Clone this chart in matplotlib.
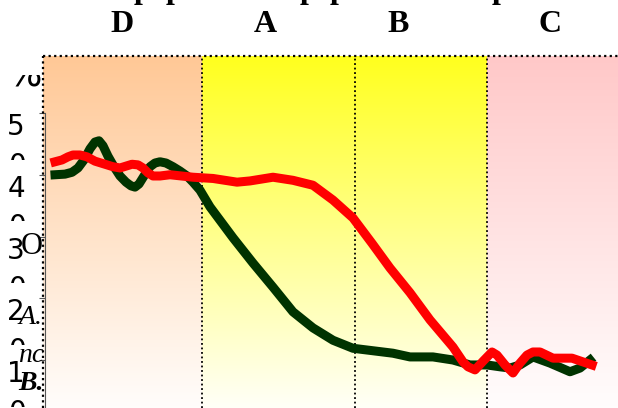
import numpy as np
import matplotlib
matplotlib.use("Agg")
import matplotlib.pyplot as plt
from matplotlib.transforms import Bbox

W, H = 618, 408

# band layout along the x axis (start, end) and their top colours
band_names = ["D", "A", "B", "C"]
band_edges = [0, 159, 312, 444, 575]
band_colors = [(255, 200, 150), (255, 255, 30), (255, 255, 30), (255, 200, 200)]

yticks = [1, 2, 3, 4, 5]
ytick_labels = ["1", "2", "3", "4", "5"]

green_x = [12, 22, 29, 35, 41, 47, 52, 56, 60, 65, 71, 77, 83, 88, 92, 96,
           101, 107, 112, 117, 123, 130, 137, 144, 150, 157, 167, 190, 210,
           230, 250, 270, 290, 310, 330, 350, 367, 390, 410, 427, 444, 457,
           467, 477, 490, 507, 527, 537, 547]
green_y = [4.00, 4.01, 4.04, 4.11, 4.24, 4.42, 4.53, 4.55, 4.47, 4.30, 4.13,
           3.98, 3.88, 3.82, 3.80, 3.85, 3.98, 4.13, 4.19, 4.21, 4.19, 4.13,
           4.06, 3.98, 3.88, 3.75, 3.48, 2.98, 2.57, 2.18, 1.78, 1.52, 1.32,
           1.19, 1.15, 1.11, 1.05, 1.05, 1.00, 0.92, 0.92, 0.89, 0.87, 0.92,
           1.05, 0.95, 0.81, 0.87, 1.00]

red_x = [12, 19, 25, 30, 37, 44, 52, 62, 70, 77, 83, 89, 95, 100, 105, 110,
         117, 127, 150, 170, 194, 207, 230, 250, 270, 290, 310, 329, 347, 367,
         387, 410, 420, 425, 432, 440, 449, 454, 462, 470, 477, 484, 490, 497,
         510, 529, 549]
red_y = [4.21, 4.24, 4.29, 4.32, 4.32, 4.29, 4.22, 4.17, 4.13, 4.11, 4.14,
         4.17, 4.16, 4.11, 4.03, 3.98, 3.98, 4.00, 3.96, 3.94, 3.88, 3.90,
         3.96, 3.91, 3.83, 3.59, 3.30, 2.89, 2.49, 2.09, 1.65, 1.21, 0.97,
         0.89, 0.84, 0.98, 1.13, 1.08, 0.92, 0.79, 0.95, 1.08, 1.13, 1.13,
         1.03, 1.03, 0.92]

y_lo, y_hi = 0.223, 5.923


def fpos(x, y):
    return x / W, 1 - y / H


def clip_px(t, x0, y0, x1, y1):
    # clip a text to a pixel rectangle (top-left origin)
    t.set_clip_box(Bbox.from_extents(x0, H - y1, x1, H - y0))
    t.set_clip_on(True)


fig = plt.figure(figsize=(W / 100, H / 100), dpi=100)
ax = fig.add_axes([43 / W, 0, 575 / W, 352 / H])
ax.set_xlim(band_edges[0], band_edges[-1])
ax.set_ylim(y_lo, y_hi)

# gradient backgrounds
ny = 200
yy = np.linspace(y_hi, y_lo, ny)
# fade to white a little below the visible bottom
white_at = y_lo - 0.2
frac = (yy - white_at) / (y_hi - white_at)
for i in range(len(band_names)):
    c = np.array(band_colors[i]) / 255.0
    grad = 1 - frac[:, None] * (1 - c[None, :])
    img = grad[:, None, :]
    ax.imshow(img, extent=[band_edges[i], band_edges[i + 1], y_lo, y_hi],
              aspect="auto", interpolation="bilinear", zorder=0)

dots = (0, (1, 1.5))
for xe in band_edges[1:-1]:
    ax.axvline(xe, color="black", ls=dots, lw=1.3, zorder=2)

ax.plot(green_x, green_y, color="#003300", lw=6.5, solid_joinstyle="round", zorder=3)
ax.plot(red_x, red_y, color="#ff0000", lw=6.5, solid_joinstyle="round", zorder=4)

for s in ["right", "bottom", "top"]:
    ax.spines[s].set_visible(False)
ax.axhline(y_hi, color="black", ls=dots, lw=1.6, zorder=5, clip_on=False)
ax.axvline(0, color="black", ls=dots, lw=1.6, zorder=5, clip_on=False)

# inner y axis with ticks
ax.spines["left"].set_position(("data", 2))
ax.spines["left"].set_bounds(y_lo, 5)
ax.spines["left"].set_color("#555555")
ax.set_yticks(yticks)
ax.set_yticklabels(ytick_labels, fontsize=20, family="DejaVu Sans")
ax.tick_params(axis="y", length=4, color="#555555", pad=10.5)
plt.setp(ax.get_yticklabels(), va="top")
ax.set_xticks([])

# band titles
title_x = [122, 265, 398, 550]
for name, tx in zip(band_names, title_x):
    fig.text(*fpos(tx, 24), name, ha="center", va="center", fontsize=23,
             fontweight="bold", family="Liberation Serif")

# clipped descenders of a cut-off heading line
for px in [143, 175, 309, 339, 501]:
    t = fig.text(*fpos(px, -2), "p", ha="center", va="baseline", fontsize=23,
                 fontweight="bold", family="Liberation Serif")
    clip_px(t, 0, 0, W, 6)

# cut-off fragments at the left edge
for tp in [113, 174, 236, 298, 360]:
    t = fig.text(*fpos(26, tp + 39), "0", ha="right", va="top", fontsize=20,
                 family="DejaVu Sans")
    clip_px(t, 0, tp + 38, 42, tp + 47)
t = fig.text(*fpos(42, 86), "%", ha="right", va="baseline", fontsize=26,
             family="DejaVu Sans")
clip_px(t, 0, 75, 42, 90)
fig.text(*fpos(32, 247), "O", ha="center", va="center", fontsize=22,
         family="Liberation Serif")
fig.text(*fpos(31, 317), "A.", ha="center", va="center", fontsize=20,
         style="italic", family="Liberation Serif")
t = fig.text(*fpos(18, 362), "nc", ha="left", va="baseline", fontsize=20,
             style="italic", family="Liberation Serif")
clip_px(t, 0, 340, 43, 370)
fig.text(*fpos(31, 384), "B.", ha="center", va="center", fontsize=20,
         style="italic", fontweight="bold", family="Liberation Serif")

fig.savefig("out.png", dpi=100)
